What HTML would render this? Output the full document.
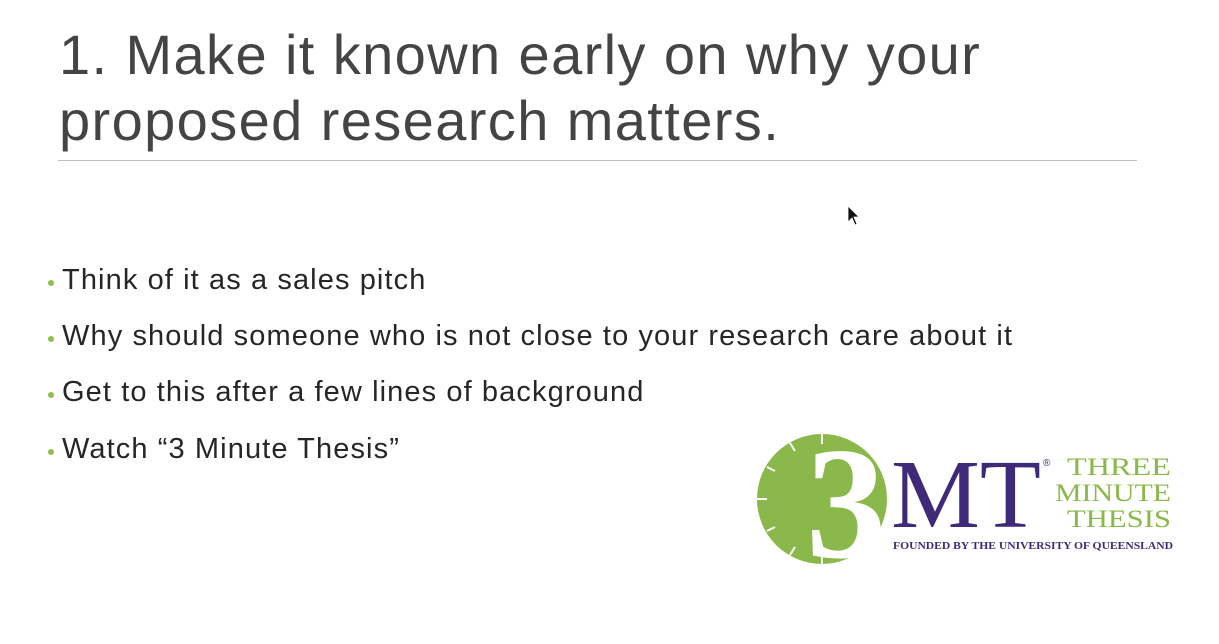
<!DOCTYPE html>
<html><head><meta charset="utf-8"><style>
html,body{margin:0;padding:0;background:#fff;}
body{width:1219px;height:644px;position:relative;overflow:hidden;font-family:"Liberation Sans",sans-serif;}
.title{position:absolute;left:59px;top:22px;font-size:56px;line-height:66px;color:#444;letter-spacing:1.4px;}
.rule{position:absolute;left:58px;top:160px;width:1079px;height:1px;background:#bfbfbf;}
.b{position:absolute;left:62px;font-size:29px;color:#262626;white-space:nowrap;letter-spacing:1.1px;}
.dot{position:absolute;left:48px;width:6px;height:6px;border-radius:50%;background:#8cbf4c;}
</style></head><body>
<div class="title">1. Make it known early on why your<br>proposed research matters.</div>
<div class="rule"></div>
<div class="dot" style="top:280px"></div>
<div class="dot" style="top:336px"></div>
<div class="dot" style="top:392px"></div>
<div class="dot" style="top:449px"></div>
<div class="b" style="top:264px">Think of it as a sales pitch</div>
<div class="b" style="top:320px">Why should someone who is not close to your research care about it</div>
<div class="b" style="top:376px">Get to this after a few lines of background</div>
<div class="b" style="top:433px">Watch “3 Minute Thesis”</div>
<svg style="position:absolute;left:0;top:0" width="1219" height="644">
<path d="M848,206 L848,222 L852,218 L855,225 L857,224 L854,217 L859,217 Z" fill="#111" stroke="#fff" stroke-width="0.8"/>
<g>
<circle cx="822" cy="499" r="65" fill="#8ab84a"/>
<g stroke="#fff" stroke-width="2">
<line x1="822" y1="434" x2="822" y2="444"/><line x1="790" y1="443" x2="795" y2="451"/><line x1="767" y1="467" x2="775" y2="471"/>
<line x1="757" y1="499" x2="767" y2="499"/><line x1="767" y1="531" x2="775" y2="527"/><line x1="790" y1="555" x2="795" y2="547"/><line x1="822" y1="564" x2="822" y2="554"/>
</g>
<text x="846" y="557" font-family="Liberation Serif,serif" font-size="160" font-weight="bold" fill="#fff" text-anchor="middle">3</text>
<text x="891" y="527" font-family="Liberation Serif,serif" font-size="98" fill="#3f2a7a" textLength="150" lengthAdjust="spacingAndGlyphs">MT</text>
<text x="1043" y="466" font-family="Liberation Sans,sans-serif" font-size="10" fill="#3f2a7a">®</text>
<g font-family="Liberation Serif,serif" font-size="25" fill="#8ab84a">
<text x="1067" y="475" textLength="104" lengthAdjust="spacingAndGlyphs">THREE</text>
<text x="1055" y="501" textLength="116" lengthAdjust="spacingAndGlyphs">MINUTE</text>
<text x="1067" y="527" textLength="104" lengthAdjust="spacingAndGlyphs">THESIS</text>
</g>
<text x="893" y="549" font-family="Liberation Serif,serif" font-size="11" font-weight="bold" fill="#3f2a7a" textLength="280" lengthAdjust="spacingAndGlyphs">FOUNDED BY THE UNIVERSITY OF QUEENSLAND</text>
</g>
</svg>
</body></html>
